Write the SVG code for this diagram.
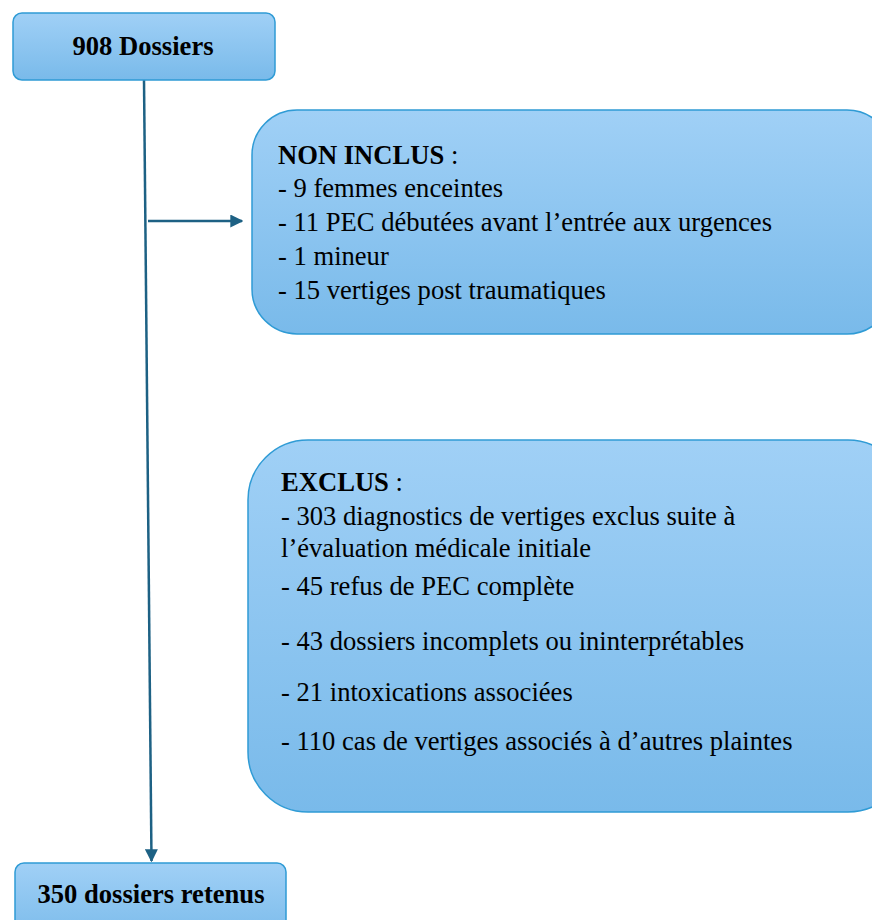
<svg xmlns="http://www.w3.org/2000/svg" width="872" height="920" viewBox="0 0 872 920">
<defs>
<linearGradient id="g" x1="0" y1="0" x2="0" y2="1">
<stop offset="0" stop-color="#a0d0f6"/>
<stop offset="1" stop-color="#79baea"/>
</linearGradient>
<marker id="ah" viewBox="0 0 10 10" refX="9" refY="5" markerWidth="13" markerHeight="13" markerUnits="userSpaceOnUse" orient="auto">
<path d="M0,0 L10,5 L0,10 z" fill="#1d6184"/>
</marker>
</defs>
<style>
.box{fill:url(#g);stroke:#2f9bd5;stroke-width:1.5}
.c{stroke:#1d6184;stroke-width:2.5;fill:none}
</style>
<g id="connectors">
<line class="c" x1="144" y1="80" x2="151.5" y2="861" marker-end="url(#ah)"/>
<line class="c" x1="148" y1="221" x2="242" y2="221" marker-end="url(#ah)"/>
</g>
<g id="n908">
<rect class="box" x="13" y="13" width="262" height="67" rx="9"/>
<text font-family="'Liberation Serif', Tinos, 'DejaVu Serif', serif" font-size="26.6" font-weight="bold" x="143" y="55" text-anchor="middle">908 Dossiers</text>
</g>
<g id="nonInclus" font-family="'Liberation Serif', Tinos, 'DejaVu Serif', serif" font-size="26.6">
<rect class="box" x="252" y="110" width="640" height="224" rx="45"/>
<text x="278" y="164"><tspan font-weight="bold">NON INCLUS</tspan> :</text>
<text x="278" y="197">- 9 femmes enceintes</text>
<text x="278" y="231">- 11 PEC débutées avant l’entrée aux urgences</text>
<text x="278" y="265">- 1 mineur</text>
<text x="278" y="299">- 15 vertiges post traumatiques</text>
</g>
<g id="exclus" font-family="'Liberation Serif', Tinos, 'DejaVu Serif', serif" font-size="26.6">
<rect class="box" x="248" y="440" width="660" height="372" rx="60"/>
<text x="281" y="491"><tspan font-weight="bold">EXCLUS</tspan> :</text>
<text x="281" y="525">- 303 diagnostics de vertiges exclus suite à</text>
<text x="281" y="557">l’évaluation médicale initiale</text>
<text x="281" y="595">- 45 refus de PEC complète</text>
<text x="281" y="650">- 43 dossiers incomplets ou ininterprétables</text>
<text x="281" y="701">- 21 intoxications associées</text>
<text x="281" y="750">- 110 cas de vertiges associés à d’autres plaintes</text>
</g>
<g id="n350">
<rect class="box" x="15" y="863" width="271" height="80" rx="9"/>
<text font-family="'Liberation Serif', Tinos, 'DejaVu Serif', serif" font-size="26.6" font-weight="bold" x="151" y="903" text-anchor="middle">350 dossiers retenus</text>
</g>
</svg>
